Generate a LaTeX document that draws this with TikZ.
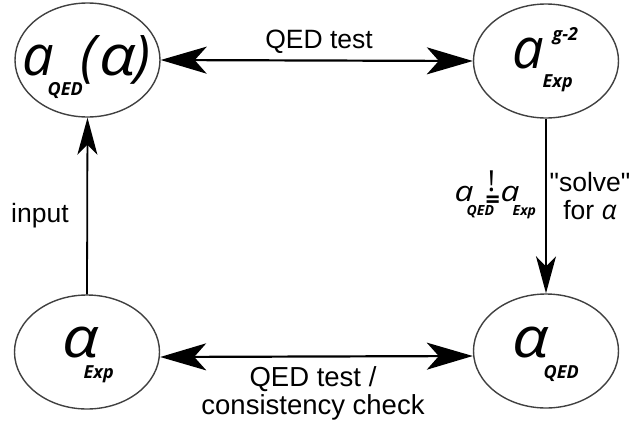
\documentclass[tikz,border=0pt]{standalone}
\usepackage{fontspec}
\newfontfamily\arial{Liberation Sans}
\newfontfamily\osans{Open Sans}
\usetikzlibrary{shapes.geometric,arrows.meta}

% italic symbols and bold italic indices
\newcommand\bigsym[1]{{\osans\itshape\fontsize{56}{56}\selectfont #1}}
\newcommand\bigalpha{\scalebox{1.15}[1]{\bigsym{α}}}
\newcommand\idx[1]{{\osans\bfseries\itshape\fontsize{18}{18}\selectfont #1}}
\newcommand\smsym[1]{\scalebox{1.2}[1]{\osans\itshape\fontsize{28}{28}\selectfont #1}}
\newcommand\smidx[1]{{\osans\bfseries\itshape\fontsize{14}{14}\selectfont #1}}
% put a piece at an offset (right, up) from the node's base point
\newcommand\putat[3]{\rlap{\hspace*{#1pt}\raisebox{#2pt}{#3}}}

\begin{document}
\begin{tikzpicture}[x=1pt,y=-1pt,
  state/.style={ellipse,draw=black!75,line width=1.4pt,minimum width=145pt,
    minimum height=114pt,inner sep=0pt},
  sym/.style={anchor=base west,inner sep=0pt},
  lbl/.style={inner sep=0pt,font=\arial\fontsize{26.5}{28}\selectfont,align=center},
  link/.style={line width=2.2pt},
  bigtip/.tip={Stealth[length=46pt,width=27pt,inset=12pt]},
  smalltip/.tip={Stealth[length=37pt,width=20pt,inset=10pt]}]
\useasboundingbox (0,0) rectangle (634,426);

% the four states
\node[state] (tl) at (87.5,60) {};
\node[state] (tr) at (546,61) {};
\node[state] (bl) at (87,352) {};
\node[state] (br) at (546,351) {};

% their symbols
\node[sym] (tlsym) at (22,75)
  {\putat{0}{0}{\bigsym{a}}\putat{25}{-20}{\idx{QED}}%
   \putat{58}{0}{\bigsym{(}}\putat{77}{0}{\bigalpha}\putat{112}{0}{\bigsym{)}}};
\node[sym] (trsym) at (512,68)
  {\putat{0}{0}{\bigsym{a}}\putat{40}{28}{\idx{g-2}}\putat{30}{-19}{\idx{Exp}}};
\node[sym] (blsym) at (62,357)
  {\putat{0}{0}{\bigalpha}\putat{21}{-21}{\idx{Exp}}};
\node[sym] (brsym) at (512,357)
  {\putat{0}{0}{\bigalpha}\putat{31}{-21}{\idx{QED}}};

% connectors
\draw[link,bigtip-bigtip] (tl.east) -- (tr.west);
\draw[link,bigtip-bigtip] ([yshift=-5pt]bl.east) -- ([yshift=-5pt]br.west);
\draw[line width=1.8pt,-smalltip] (bl.north) -- (tl.south);
\draw[line width=1.8pt,-smalltip] (tr.south) -- (br.north);

% connector labels
\node[lbl,anchor=base] (qedtop) at (319,48) {QED test};
\node[lbl,anchor=base west] (input) at (11,222) {input};
\node[lbl] (solve) at (590,196) {"solve"\\for {\osans\itshape α}};
\node[lbl,font=\arial\fontsize{27.5}{28}\selectfont] (check) at (313,393)
  {QED test /\\consistency check};
\node[sym] (cond) at (454,201)
  {\putat{0}{0}{\smsym{a}}\putat{12}{-14}{\smidx{QED}}%
   \putat{33}{10}{{\osans\fontsize{29}{29}\selectfont !}}%
   \putat{31}{-7}{{\osans\bfseries\fontsize{25}{25}\selectfont =}}%
   \putat{46}{0}{\smsym{a}}\putat{58}{-14}{\smidx{Exp}}};
\end{tikzpicture}
\end{document}
